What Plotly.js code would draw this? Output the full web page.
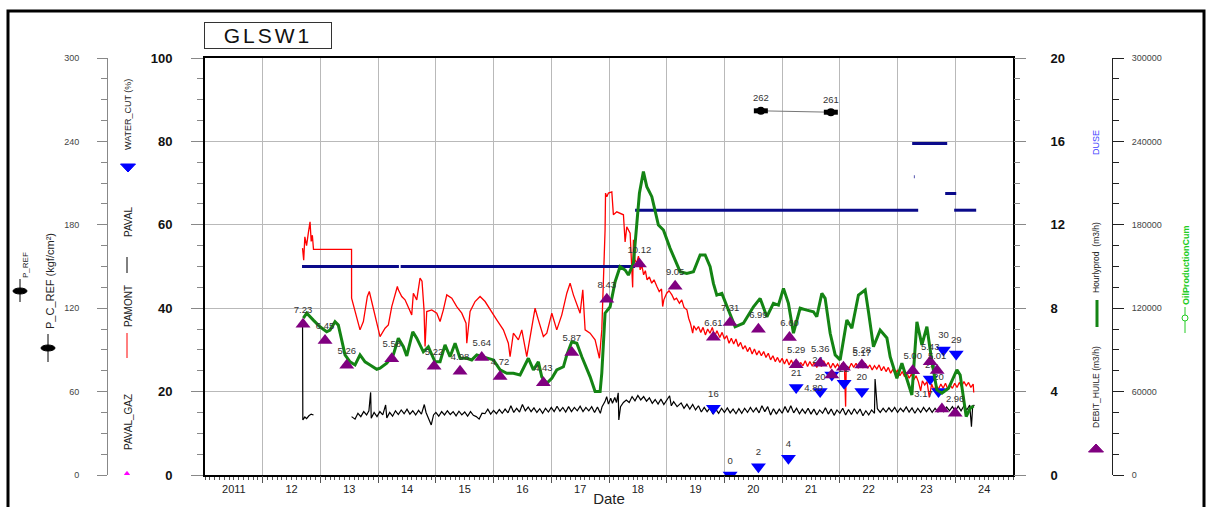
<!DOCTYPE html>
<html><head><meta charset="utf-8">
<script src="https://cdn.plot.ly/plotly-3.0.1.min.js"></script>
<style>html,body{margin:0;padding:0;background:#fff}#chart{width:1208px;height:507px}</style>
</head><body><div id="chart"></div>
<script>
// ---------------- data ----------------
const yearTickVals = [2011.5,2012.5,2013.5,2014.5,2015.5,2016.5,2017.5,2018.5,2019.5,2020.5,2021.5,2022.5,2023.5,2024.5];
const yearTickText = ["2011","12","13","14","15","16","17","18","19","20","21","22","23","24"];
const yearGrid = [2012,2013,2014,2015,2016,2017,2018,2019,2020,2021,2022,2023,2024];

// PAMONT (left axis)
const pamontYear = [2012.69,2012.71,2012.73,2012.76,2012.79,2012.82,2012.84,2012.86,2012.88,2013.539,2013.54,
 2013.60,2013.686,2013.744,2013.813,2013.847,2013.889,2013.946,2014.003,2014.033,2014.12,2014.177,2014.236,2014.293,2014.333,2014.35,2014.409,2014.466,2014.523,2014.582,2014.61,2014.669,2014.726,2014.76,2014.795,2014.813,2014.842,2014.929,2015.016,2015.073,2015.13,2015.189,2015.276,2015.362,2015.449,2015.523,2015.536,2015.593,2015.679,2015.766,2015.853,2015.939,2016.055,2016.17,2016.256,2016.286,2016.343,2016.43,2016.489,2016.575,2016.633,2016.719,2016.776,2016.863,2016.922,2017.009,2017.095,2017.182,2017.269,2017.326,2017.383,2017.442,2017.499,2017.546,2017.586,2017.672,2017.759,2017.834,2017.875,2017.932,2017.94,2017.962,2017.99,2018.049,2018.076,2018.135,2018.192,2018.25,2018.279,2018.308,2018.366,2018.41,2018.423,
 2018.45,2018.48,2018.51,2018.54,2018.57,2018.60,2018.63,2018.66,2018.70,2018.74,2018.78,2018.83,2018.87,2018.91,2018.93,2018.95,2019.00,2019.04,2019.09,2019.13,2019.17,2019.22,2019.26,2019.30,2019.35,2019.38,2019.41,2019.45,2019.47,2019.51,2019.55,2019.59,2019.63,2019.67,2019.71,2019.75,2019.79,2019.83,2019.87,2019.92,2019.96,2020.00,2020.04,2020.08,2020.12,2020.16,2020.20,2020.24,2020.28,2020.32,2020.36,2020.40,2020.44,2020.48,2020.52,2020.56,2020.60,2020.64,2020.68,2020.72,2020.76,2020.80,2020.84,2020.88,2020.92,2020.96,2021.00,2021.04,2021.08,2021.12,2021.16,2021.20,2021.24,2021.28,2021.32,2021.36,2021.40,2021.44,2021.48,2021.52,2021.56,2021.60,2021.64,2021.68,2021.72,2021.76,2021.80,2021.84,2021.88,2021.92,2021.96,2022.00,2022.04,2022.08,2022.10,2022.11,2022.16,2022.20,2022.24,2022.28,2022.32,2022.36,2022.40,2022.44,2022.48,2022.52,2022.56,2022.60,2022.64,2022.68,2022.72,2022.76,2022.80,2022.84,2022.88,2022.92,2022.96,2023.00,2023.04,2023.08,2023.12,2023.16,2023.20,2023.24,2023.28,2023.32,2023.36,2023.40,2023.43,2023.47,2023.51,2023.55,2023.59,2023.63,2023.67,2023.71,2023.75,2023.79,2023.83,2023.87,2023.91,2023.95,2023.99,2024.03,2024.07,2024.11,2024.15,2024.19,2024.23,2024.27,2024.31,2024.32];
const pamontVal = [54.4,51.5,57.1,55.0,58.0,60.7,56.0,57.5,54.1,54.1,42.4,
 39.2,34.8,36.8,42.8,44.0,41.6,38.4,35.2,33.2,35.2,36.0,40.4,43.6,45.2,44.4,42.8,42.0,40.0,38.4,43.6,42.0,47.2,46.5,39.6,30.8,39.2,39.6,38.8,36.8,39.6,43.2,42.4,40.4,38.8,36.4,31.6,39.2,41.6,42.8,41.6,39.6,37.2,34.8,31.6,28.4,34.0,32.4,34.8,28.4,33.2,40.0,37.2,33.2,34.0,38.8,34.8,38.4,43.6,46.0,43.2,41.2,38.8,44.4,34.8,34.0,32.4,28.0,34.8,58.8,67.6,66.7,67.6,67.9,62.4,63.1,62.8,62.4,55.9,59.5,58.0,45.0,56.4,
 51.6,50.8,52.5,49.2,50.2,48.0,49.0,46.8,47.5,46.0,46.8,45.2,44.0,44.6,40.4,42.0,43.6,44.2,43.2,42.0,42.4,41.2,42.0,40.2,39.6,37.6,36.4,34.0,35.8,34.8,35.6,34.2,35.4,33.6,35.0,34.0,35.4,33.2,34.6,33.0,34.2,32.6,33.4,31.6,32.8,31.4,32.6,30.8,31.8,30.2,31.0,29.6,30.6,29.0,30.2,28.8,29.8,28.6,29.6,28.2,29.2,27.6,28.6,27.2,28.2,27.0,28.0,26.6,27.8,26.4,27.6,26.0,27.2,25.8,27.0,26.2,27.4,26.0,27.2,26.2,27.0,25.8,27.2,26.0,27.4,26.2,27.0,25.6,26.8,25.8,26.6,25.6,26.8,25.8,16.4,26.2,25.6,26.8,25.8,26.8,25.6,26.6,25.8,26.8,25.6,26.4,25.2,26.2,25.4,26.4,25.0,26.0,24.8,25.8,24.4,25.4,24.2,25.2,23.8,24.8,23.6,24.6,23.2,24.2,22.8,23.8,22.4,20.2,22.6,21.6,22.4,18.6,21.8,20.4,21.4,20.6,21.8,20.8,22.0,20.6,21.6,20.8,22.0,21.0,22.2,21.2,22.4,21.4,22.2,21.0,21.8,19.8];

// PAVAL (left axis)
const pavalYear = [2012.69,2012.695,2012.73,2012.76,2012.80,2012.84,2012.88,2013.2,
 2013.54,2013.60,2013.65,2013.70,2013.75,2013.80,2013.84,2013.87,2013.88,2013.93,2013.98,2014.03,2014.08,2014.13,2014.15,2014.20,2014.25,2014.30,2014.35,2014.40,2014.45,2014.50,2014.55,2014.60,2014.65,2014.70,2014.75,2014.80,2014.83,2014.88,2014.92,2014.96,2015.00,2015.05,2015.10,2015.15,2015.20,2015.25,2015.30,2015.35,2015.40,2015.45,2015.50,2015.55,2015.60,2015.65,2015.70,2015.75,2015.80,2015.85,2015.90,2015.95,2016.00,2016.05,2016.10,2016.15,2016.20,2016.25,2016.30,2016.35,2016.40,2016.45,2016.50,2016.55,2016.60,2016.65,2016.70,2016.75,2016.80,2016.85,2016.90,2016.95,2017.00,2017.05,2017.10,2017.15,2017.20,2017.25,2017.30,2017.35,2017.40,2017.45,2017.50,2017.55,2017.60,2017.65,2017.70,2017.75,2017.80,2017.85,2017.88,2017.93,2017.96,2017.99,2018.03,2018.06,2018.10,2018.13,2018.16,2018.17,2018.20,2018.25,2018.30,2018.35,2018.40,2018.45,2018.50,2018.55,2018.60,2018.65,2018.70,2018.75,2018.80,2018.85,2018.90,2018.95,2019.00,2019.05,2019.08,2019.12,2019.18,2019.25,2019.30,2019.35,2019.40,2019.45,2019.50,2019.55,2019.60,2019.65,2019.70,2019.75,2019.80,2019.85,2019.90,2019.95,2020.00,2020.05,2020.10,2020.15,2020.20,2020.25,2020.30,2020.35,2020.40,2020.45,2020.50,2020.55,2020.60,2020.65,2020.70,2020.75,2020.80,2020.85,2020.90,2020.95,2021.00,2021.05,2021.10,2021.15,2021.20,2021.25,2021.30,2021.35,2021.40,2021.45,2021.50,2021.55,2021.60,2021.65,2021.70,2021.75,2021.80,2021.85,2021.90,2021.95,2022.00,2022.05,2022.10,2022.15,2022.20,2022.25,2022.30,2022.35,2022.40,2022.45,2022.50,2022.55,2022.60,2022.61,2022.65,2022.70,2022.75,2022.80,2022.85,2022.90,2022.95,2023.00,2023.05,2023.10,2023.15,2023.20,2023.25,2023.30,2023.35,2023.40,2023.45,2023.50,2023.55,2023.60,2023.65,2023.70,2023.75,2023.80,2023.85,2023.90,2023.95,2024.00,2024.05,2024.10,2024.15,2024.20,2024.25,2024.28,2024.30,2024.33];
const pavalVal = [37.2,13.2,13.9,13.5,14.2,14.6,14.4,null,
 14.0,13.4,14.8,14.0,15.2,14.4,15.4,19.8,13.6,15.0,14.0,15.2,14.4,16.8,13.7,15.0,14.1,15.4,14.5,15.6,14.7,15.8,14.6,15.4,14.4,15.5,14.6,16.9,15.0,13.4,12.0,14.4,15.0,14.1,15.2,14.4,15.4,14.5,15.2,14.2,15.3,14.4,15.1,14.1,15.2,14.3,14.0,13.4,14.8,14.7,15.8,14.6,15.5,14.7,15.7,14.8,15.8,14.9,16.6,15.0,16.0,15.1,16.9,15.4,16.3,15.2,16.1,15.0,15.9,14.8,16.0,15.1,16.2,15.2,16.5,15.3,16.2,15.1,16.4,15.2,16.2,15.4,16.5,15.2,16.2,15.4,16.4,15.0,16.3,14.8,16.4,17.6,18.8,17.0,18.4,17.2,18.6,17.4,19.7,13.2,16.4,17.4,18.0,17.4,18.8,17.8,19.1,18.0,18.8,17.7,18.5,17.2,18.1,17.0,18.2,16.9,17.8,19.0,16.6,17.6,16.4,17.3,16.0,17.0,15.8,16.9,15.6,16.6,15.1,16.2,15.2,16.1,14.6,15.8,14.8,16.0,15.0,16.1,14.9,15.8,14.7,15.9,14.8,16.0,15.0,16.2,15.1,16.1,14.9,16.6,15.2,16.4,14.4,15.9,14.6,15.8,14.8,16.4,15.0,16.6,14.9,16.0,14.7,15.8,14.8,16.0,14.6,15.8,14.4,15.6,14.8,16.1,14.6,15.8,14.3,15.6,14.8,16.0,14.4,15.7,14.5,15.9,14.7,15.8,14.2,15.4,14.4,15.6,14.8,23.0,15.9,15.0,16.0,15.1,16.1,15.2,16.2,15.0,16.0,15.2,16.3,15.1,16.1,14.8,16.0,15.0,16.2,15.2,16.1,15.0,16.0,15.1,16.2,15.2,16.3,15.4,16.4,15.3,16.5,15.4,16.6,15.6,16.8,11.6,16.2,16.8];

// DUSE (right axis 0-20)
const duseYear = [2012.681,2014.36,null,2014.39,2018.452,null,2018.452,2023.357,null,2023.283,2023.295,null,2023.253,2023.86,null,2023.825,2024.016,null,2023.981,2024.362];
const duseVal  = [10,10,null,10,10,null,12.7,12.7,null,14.3,14.3,null,15.9,15.9,null,13.5,13.5,null,12.7,12.7];

// Hourlyprod (m3/h) (right axis)
const hourYear = [2012.704,2012.763,2012.877,2012.993,2013.109,2013.166,2013.253,2013.310,2013.369,2013.426,2013.513,2013.600,2013.686,2013.773,2013.860,2013.976,2014.033,2014.149,2014.263,2014.350,2014.437,2014.496,2014.600,2014.669,2014.783,2014.870,2014.986,2015.073,2015.159,2015.246,2015.333,2015.419,2015.536,2015.622,2015.709,2015.823,2015.997,2016.113,2016.229,2016.343,2016.459,2016.603,2016.690,2016.776,2016.835,2016.922,2017.009,2017.095,2017.210,2017.269,2017.355,2017.442,2017.529,2017.673,2017.759,2017.846,2017.875,2017.932,2018.019,2018.106,2018.192,2018.279,2018.336,2018.423,2018.482,2018.527,2018.596,2018.655,2018.742,2018.856,2018.943,2019.059,2019.232,2019.348,2019.463,2019.579,2019.666,2019.752,2019.809,2019.868,2019.955,2020.042,2020.185,2020.329,2020.503,2020.619,2020.735,2020.849,2020.936,2021.023,2021.109,2021.196,2021.312,2021.428,2021.542,2021.600,2021.688,2021.745,2021.832,2021.919,2022.005,2022.121,2022.208,2022.322,2022.439,2022.496,2022.582,2022.698,2022.815,2022.872,2022.988,2023.075,2023.161,2023.248,2023.335,2023.421,2023.508,2023.595,2023.681,2023.768,2023.883,2024.028,2024.085,2024.142,2024.189,2024.258,2024.315];
const hourVal = [7.52,7.76,7.43,7.11,6.87,6.95,7.35,7.19,6.47,5.76,5.43,5.28,5.76,5.43,5.28,5.07,5.12,5.36,5.76,6.56,6.15,5.71,6.87,6.56,5.91,6.15,5.43,5.43,6.24,5.67,6.32,5.60,5.60,5.52,5.76,5.67,5.52,5.04,4.88,4.88,4.80,5.60,5.04,5.43,4.71,4.40,4.64,5.04,5.19,5.76,6.39,6.32,5.67,4.71,4.00,4.00,4.88,7.76,8.07,9.27,9.99,9.83,9.59,10.15,12.23,13.51,14.55,13.83,13.35,11.99,11.75,10.87,9.75,9.67,9.75,10.55,10.55,9.99,9.19,8.63,8.71,8.07,7.11,7.28,8.07,8.47,7.59,8.23,8.15,8.95,8.23,6.80,8.00,7.91,7.83,7.59,8.71,8.47,6.80,5.76,5.52,7.43,7.04,8.63,8.87,7.83,6.15,6.95,6.57,5.67,4.64,5.36,4.56,3.84,7.35,6.24,7.11,5.43,4.08,3.92,4.16,5.04,4.80,3.76,2.80,3.20,3.31];

// DEBIT_HUILE (m3/h) (right axis)
const debitYear = [2012.698,2013.080,2013.456,2014.236,2014.969,2015.419,2015.795,2016.113,2016.863,2017.355,2017.962,2018.527,2019.146,2019.809,2020.099,2020.589,2021.127,2021.243,2021.659,2021.861,2022.062,2022.381,2023.262,2023.565,2023.686,2023.768,2023.998];
const debitVal  = [7.23,6.45,5.26,5.58,5.22,4.98,5.64,4.72,4.43,5.87,8.43,10.12,9.05,6.61,7.31,6.99,6.60,5.29,5.36,4.80,5.17,5.28,5.00,5.43,5.01,3.17,2.96];

// WATER_CUT (%) (left axis)
const wcYear = [2019.809,2020.099,2020.589,2021.109,2021.243,2021.659,2021.861,2022.074,2022.381,2023.565,2023.709,2023.795,2024.016];
const wcVal  = [16,0,2,4,21,20,24,22,20,23,20,30,29];

// P_REF (kgf/cm2) (far-left axis 0-300)
const prefYear = [2020.631,2021.844];
const prefVal  = [262,261];

// ---------------- geometry helpers (layout only) ----------------
const W=1208,H=507,ML=60,MR=60,MT=58,MB=32;
const PW=W-ML-MR, PH=H-MT-MB;
const fx = p => (p-ML)/PW;
const fy = p => (H-MB-p)/PH;
const NARROW = 'Liberation Sans Narrow, Arial Narrow, Liberation Sans, Arial, sans-serif';
const ARIAL = 'Liberation Sans, Arial, sans-serif';

function vlabel(text,x,y,size,color,weight){
  return {xref:'paper',yref:'paper',x:fx(x),y:fy(y),text:text,textangle:-90,showarrow:false,
    xanchor:'center',yanchor:'middle',font:{family:NARROW,size:size,color:color||'#222',weight:weight||'normal'}};
}
function vline(x,y0,y1,color,width){
  return {type:'line',xref:'paper',yref:'paper',x0:fx(x),x1:fx(x),y0:fy(y0),y1:fy(y1),line:{color:color,width:width}};
}
function tri(cx,cy,w,h,up,color){
  const a = up ? `M${fx(cx-w/2)},${fy(cy+h/2)} L${fx(cx+w/2)},${fy(cy+h/2)} L${fx(cx)},${fy(cy-h/2)} Z`
               : `M${fx(cx-w/2)},${fy(cy-h/2)} L${fx(cx+w/2)},${fy(cy-h/2)} L${fx(cx)},${fy(cy+h/2)} Z`;
  return {type:'path',xref:'paper',yref:'paper',path:a,fillcolor:color,line:{color:color,width:1}};
}
function ell(cx,cy,w,h,color,fill){
  return {type:'circle',xref:'paper',yref:'paper',x0:fx(cx-w/2),x1:fx(cx+w/2),y0:fy(cy+h/2),y1:fy(cy-h/2),
    fillcolor:fill,line:{color:color,width:1}};
}

const labelFont = {family:ARIAL,size:9.5,color:'#333'};
// label placement for crowded markers
const debitPos = debitVal.map((v,i)=> i===19 ? 'bottom left' : (i===20 ? 'top right' : (i===25 ? 'top left' : 'top center')));
const wcPos = wcVal.map((v,i)=> i===6 ? 'top left' : 'top center');

const traces = [
  {x:pavalYear,y:pavalVal,yaxis:'y',mode:'lines',line:{color:'#000',width:1.2},connectgaps:false,hoverinfo:'skip'},
  {x:pamontYear,y:pamontVal,yaxis:'y',mode:'lines',line:{color:'#ff0000',width:1.3},hoverinfo:'skip'},
  {x:wcYear,y:wcVal,yaxis:'y',mode:'markers+text',marker:{symbol:'triangle-down',size:13,color:'#0000ff'},
    text:wcVal.map(String),textposition:wcPos,textfont:labelFont,hoverinfo:'skip'},
  {x:duseYear,y:duseVal,yaxis:'y3',mode:'lines',line:{color:'#0a0a8a',width:3},connectgaps:false,hoverinfo:'skip'},
  {x:hourYear,y:hourVal,yaxis:'y3',mode:'lines',line:{color:'#148414',width:3},hoverinfo:'skip'},
  {x:debitYear,y:debitVal,yaxis:'y3',mode:'markers+text',marker:{symbol:'triangle-up',size:13,color:'#800080'},
    text:debitVal.map(v=>v.toFixed(2)),textposition:debitPos,textfont:labelFont,hoverinfo:'skip'},
  {x:prefYear,y:prefVal,yaxis:'y2',mode:'lines+markers+text',line:{color:'#777',width:1},
    marker:{symbol:'line-ew',size:10,line:{color:'#000',width:5}},
    text:prefVal.map(String),textposition:'top center',textfont:labelFont,hoverinfo:'skip'},
  {x:prefYear,y:prefVal,yaxis:'y2',mode:'markers',marker:{symbol:'circle',size:8,color:'#000'},hoverinfo:'skip'},
  {x:[],y:[],yaxis:'y4',mode:'lines',hoverinfo:'skip'},
  {x:[],y:[],xaxis:'x2',yaxis:'y',mode:'lines',hoverinfo:'skip'}
];

const gridC = '#b9b9b9';
const layout = {
  width:W,height:H,showlegend:false,
  margin:{l:ML,r:MR,t:MT,b:MB,pad:0},
  paper_bgcolor:'#fff',plot_bgcolor:'#fff',
  font:{family:ARIAL,color:'#222'},
  xaxis:{domain:[fx(205),fx(1013)],range:[2011,2025],tickmode:'array',tickvals:yearTickVals,ticktext:yearTickText,
    ticks:'',showgrid:false,zeroline:false,showline:true,linecolor:'#000',linewidth:2,mirror:true,
    tickfont:{family:ARIAL,size:11,color:'#222'},ticklabelstandoff:3,
    title:{text:'Date',font:{family:ARIAL,size:15,color:'#222'},standoff:0},
    minor:{tickmode:'linear',tick0:2011,dtick:0.0833333,ticks:'outside',ticklen:3,tickcolor:'#555',tickwidth:1,showgrid:false}},
  xaxis2:{overlaying:'x',anchor:'y',side:'bottom',range:[2011,2025],tickmode:'array',tickvals:yearGrid,
    showticklabels:false,ticks:'outside',ticklen:7,tickcolor:'#555',showgrid:true,gridcolor:gridC,gridwidth:1,
    zeroline:false,showline:false},
  yaxis:{range:[0,100],tickmode:'array',tickvals:[0,20,40,60,80,100],ticks:'outside',ticklen:12,tickcolor:'#888',
    showgrid:true,gridcolor:gridC,gridwidth:1,showline:true,linecolor:'#000',linewidth:2,mirror:true,zeroline:false,
    tickfont:{family:ARIAL,size:13,color:'#111',weight:'bold'},ticklabelstandoff:16,
    minor:{dtick:5,tick0:0,ticks:'outside',ticklen:6,tickcolor:'#888',showgrid:false}},
  yaxis2:{overlaying:'y',anchor:'free',position:fx(107),side:'left',range:[0,300],tickmode:'array',tickvals:[0,60,120,180,240,300],
    ticks:'outside',ticklen:10,tickcolor:'#888',showline:true,linecolor:'#888',linewidth:1,showgrid:false,zeroline:false,
    tickfont:{family:ARIAL,size:9,color:'#444'},ticklabelstandoff:16,
    minor:{dtick:15,tick0:0,ticks:'outside',ticklen:6,tickcolor:'#888',showgrid:false}},
  yaxis3:{overlaying:'y',anchor:'x',side:'right',range:[0,20],tickmode:'array',tickvals:[0,4,8,12,16,20],
    ticks:'outside',ticklen:12,tickcolor:'#888',showline:false,showgrid:false,zeroline:false,
    tickfont:{family:ARIAL,size:13,color:'#111',weight:'bold'},ticklabelstandoff:22,
    minor:{dtick:1,tick0:0,ticks:'outside',ticklen:6,tickcolor:'#888',showgrid:false}},
  yaxis4:{overlaying:'y',anchor:'free',position:fx(1112),side:'right',range:[0,300000],tickmode:'array',
    tickvals:[0,60000,120000,180000,240000,300000],ticktext:['0','60000','120000','180000','240000','300000'],
    ticks:'outside',ticklen:11,tickcolor:'#222',showline:true,linecolor:'#222',linewidth:1,showgrid:false,zeroline:false,
    tickfont:{family:ARIAL,size:9,color:'#444'},ticklabelstandoff:6,
    minor:{dtick:15000,tick0:0,ticks:'outside',ticklen:6,tickcolor:'#222',showgrid:false}},
  annotations:[
    {xref:'paper',yref:'paper',x:fx(204),y:fy(22),xanchor:'left',yanchor:'top',showarrow:false,
     text:'<span style="letter-spacing:3px">GLSW1</span>',font:{family:ARIAL,size:21,color:'#111'},
     bordercolor:'#333',borderwidth:1,borderpad:1,width:124,height:23,align:'center'},
    vlabel('P_REF',25,265,8),
    vlabel('P_C_REF (kgf/cm²)',50,281,11),
    vlabel('WATER_CUT (%)',128,115,9),
    vlabel('PAVAL',128,222,10),
    vlabel('PAMONT',128,306,10),
    vlabel('PAVAL_GAZ',128,422,10),
    vlabel('DUSE',1096,143,9,'#4444ff'),
    vlabel('Hourlyprod&nbsp;&nbsp;(m3/h)',1096,258,8.5),
    vlabel('DEBIT_HUILE (m3/h)',1096,387,8.5),
    vlabel('OilProductionCum',1186,265,9,'#22cc22','bold')
  ],
  shapes:[
    {type:'rect',xref:'paper',yref:'paper',x0:fx(8),x1:fx(1204),y0:fy(530),y1:fy(11),line:{color:'#000',width:3},layer:'below'},
    vline(20,279,302,'#000',1), ell(20,291,14,6,'#000','#000'),
    vline(48,334,362,'#000',1), ell(48,348,14,6,'#000','#000'),
    tri(128,168,15,8,false,'#0000ff'),
    vline(127,257,273,'#000',1),
    vline(127,333,358,'#ff0000',1),
    tri(127,473,5,3,true,'#ff00ff'),
    vline(1097,300,327,'#148414',3),
    tri(1096,448,15,8,true,'#800080'),
    vline(1185,307,333,'#22cc22',1), ell(1185,318,6,6,'#22cc22','#fff')
  ]
};

Plotly.newPlot('chart',traces,layout,{displayModeBar:false,staticPlot:true});
</script>
</body></html>
